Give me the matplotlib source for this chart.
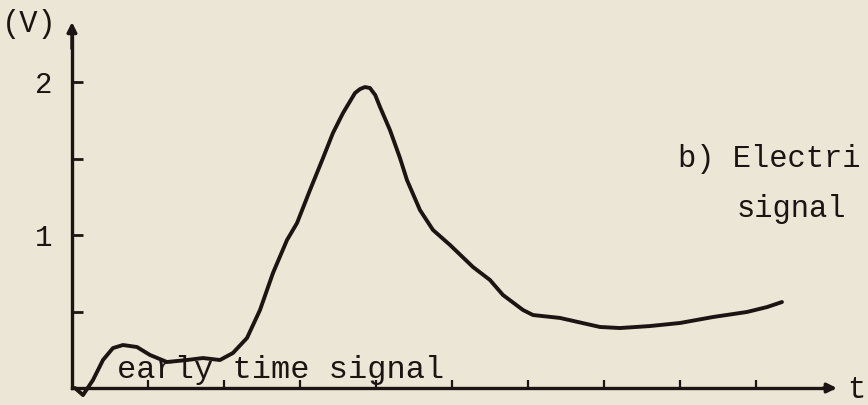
import matplotlib.pyplot as plt
import numpy as np

# signal trace: time in tick units, voltage in V
t = [0.04, 0.145, 0.276, 0.408, 0.539, 0.671, 0.855, 1.026, 1.25, 1.513,
     1.724, 1.947, 2.118, 2.303, 2.474, 2.645, 2.829, 2.961, 3.132, 3.303,
     3.434, 3.566, 3.724, 3.79, 3.855, 3.92, 3.99, 4.053, 4.184, 4.316,
     4.408, 4.579, 4.75, 4.974, 5.276, 5.5, 5.671, 5.934, 6.066, 6.421,
     6.947, 7.211, 7.605, 8.0, 8.434, 8.882, 9.145, 9.342]
v = [0.0, -0.046, 0.052, 0.183, 0.261, 0.281, 0.268, 0.216, 0.17, 0.183,
     0.196, 0.183, 0.229, 0.327, 0.51, 0.752, 0.967, 1.078, 1.294, 1.503,
     1.667, 1.797, 1.928, 1.954, 1.967, 1.961, 1.915, 1.837, 1.686, 1.503,
     1.359, 1.163, 1.033, 0.935, 0.791, 0.706, 0.608, 0.51, 0.477, 0.458,
     0.399, 0.392, 0.405, 0.425, 0.464, 0.497, 0.529, 0.562]

yticks = [0.5, 1.0, 1.5, 2.0]
ylabels = ['', '1', '', '2']
xticks = [1, 2, 3, 4, 5, 6, 7, 8, 9]

paper = '#ece6d6'
ink = '#1b1412'
font = 'Liberation Mono'

fig = plt.figure(figsize=(8.68, 4.05), dpi=100, facecolor=paper)
ax = fig.add_axes([0, 0, 1, 1], facecolor=paper)
ax.set_xlim(-0.947, 10.474)
ax.set_ylim(-0.111, 2.536)

ax.plot(t, v, color=ink, lw=2.8, solid_joinstyle='round', solid_capstyle='round')

# axes drawn through the origin
for s in ['top', 'right']:
    ax.spines[s].set_visible(False)
ax.spines['left'].set_position(('data', 0))
ax.spines['bottom'].set_position(('data', 0))
ax.spines['left'].set_bounds(0, 2.34)
ax.spines['bottom'].set_bounds(0, 10.0)
for s in ['left', 'bottom']:
    ax.spines[s].set_color(ink)
    ax.spines[s].set_linewidth(2.4)

ax.annotate('', xy=(0, 2.41), xytext=(0, 2.2),
            arrowprops=dict(arrowstyle='-|>', color=ink, lw=2.4, mutation_scale=14))
ax.annotate('', xy=(10.1, 0), xytext=(9.85, 0),
            arrowprops=dict(arrowstyle='-|>', color=ink, lw=2.4, mutation_scale=14))

ax.set_yticks(yticks)
ax.set_yticklabels(ylabels, fontfamily=font, fontsize=21, color=ink)
ax.set_xticks(xticks)
ax.set_xticklabels([])
ax.tick_params(axis='y', direction='in', length=8, width=2, color=ink, pad=14)
ax.tick_params(axis='x', direction='in', length=6, width=1.6, color=ink)

ax.text(-0.56, 2.38, '(V)', fontfamily=font, fontsize=22, color=ink,
        ha='center', va='center')
ax.text(0.59, 0.065, 'early time signal', fontfamily=font, fontsize=23,
        color=ink, va='baseline')
ax.text(7.97, 1.444, 'b) Electri', fontfamily=font, fontsize=22,
        color=ink, va='baseline')
ax.text(8.75, 1.118, 'signal', fontfamily=font, fontsize=22,
        color=ink, va='baseline')
ax.text(10.2, -0.015, 't', fontfamily=font, fontsize=22,
        color=ink, va='center')

plt.savefig('out.png', dpi=100, facecolor=paper)
